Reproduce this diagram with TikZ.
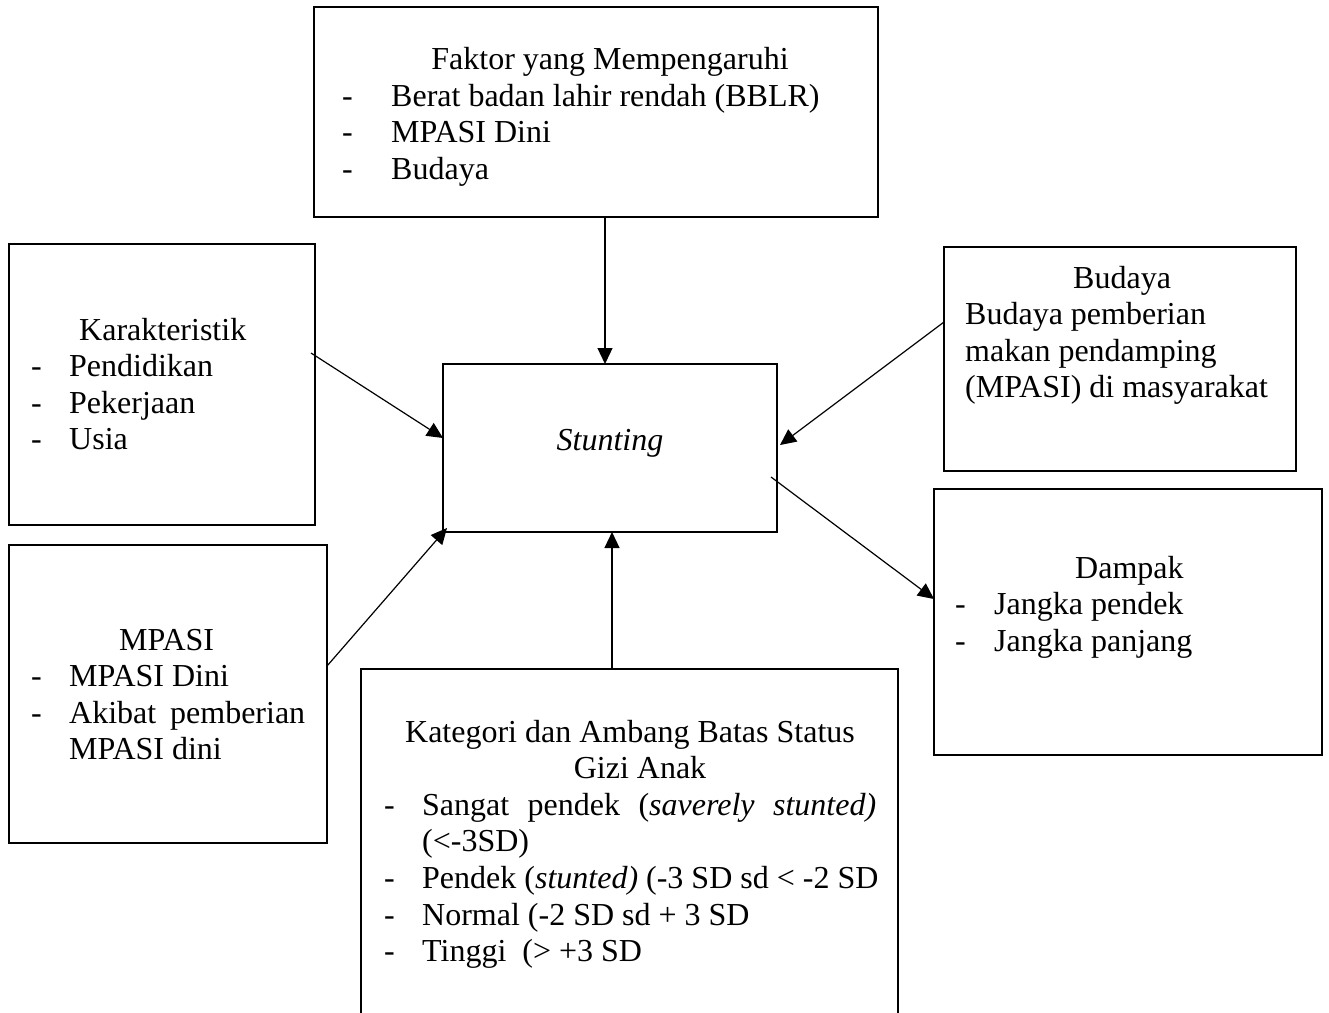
\documentclass[tikz,border=0pt]{standalone}
\usepackage{fontspec}
\setmainfont{Liberation Serif}
\usetikzlibrary{arrows.meta,calc}
\begin{document}
\begin{tikzpicture}[x=1pt,y=-1pt,
  box/.style={draw, line width=2.6pt, inner sep=0pt, outer sep=0pt},
  txt/.style={inner sep=0pt, anchor=base west, font=\fontsize{32}{36.6}\selectfont},
  ctxt/.style={txt, anchor=base},
  arr/.style={line width=1.2pt, -{Triangle[length=16pt,width=15pt]}}]
\useasboundingbox (0,0) rectangle (1329,1012);
\clip (0,0) rectangle (1329,1012);
\fill[white] (0,0) rectangle (1329,1012);

% boxes
\node[box, minimum width=564pt, minimum height=210pt] (faktor) at (596,112) {};
\node[box, minimum width=306pt, minimum height=281pt] (kar) at (162,384.5) {};
\node[box, minimum width=334pt, minimum height=168pt] (stunt) at (610,448) {};
\node[box, minimum width=352pt, minimum height=224pt] (bud) at (1120,359) {};
\node[box, minimum width=388pt, minimum height=266pt] (damp) at (1128,622) {};
\node[box, minimum width=318pt, minimum height=298pt] (mpasi) at (168,694) {};
\node[box, minimum width=537pt, minimum height=380pt] (kat) at (629.5,859) {};

% Faktor
\node[ctxt] (f0) at (610,69) {Faktor yang Mempengaruhi};
\node[txt] (f1d) at (342,106) {-};
\node[txt] (f1) at (391,106) {Berat badan lahir rendah (BBLR)};
\node[txt] (f2d) at (342,142.6) {-};
\node[txt] (f2) at (391,142.6) {MPASI Dini};
\node[txt] (f3d) at (342,179.2) {-};
\node[txt] (f3) at (391,179.2) {Budaya};

% Karakteristik
\node[txt] (k0) at (79,340) {Karakteristik};
\node[txt] (k1d) at (31,376.6) {-};
\node[txt] (k1) at (69,376.6) {Pendidikan};
\node[txt] (k2d) at (31,413.2) {-};
\node[txt] (k2) at (69,413.2) {Pekerjaan};
\node[txt] (k3d) at (31,449.8) {-};
\node[txt] (k3) at (69,449.8) {Usia};

% Stunting
\node[ctxt] (s0) at (610,450) {\itshape Stunting};

% Budaya
\node[txt] (b0) at (1073,288) {Budaya};
\node[txt] (b1) at (965,324.6) {Budaya pemberian};
\node[txt] (b2) at (965,361.2) {makan pendamping};
\node[txt] (b3) at (965,397.8) {(MPASI) di masyarakat};

% Dampak
\node[txt] (d0) at (1075,578) {Dampak};
\node[txt] (d1d) at (955,614.6) {-};
\node[txt] (d1) at (994,614.6) {Jangka pendek};
\node[txt] (d2d) at (955,651.2) {-};
\node[txt] (d2) at (994,651.2) {Jangka panjang};

% MPASI
\node[txt] (m0) at (119,650) {MPASI};
\node[txt] (m1d) at (31,686.6) {-};
\node[txt] (m1) at (69,686.6) {MPASI Dini};
\node[txt] (m2d) at (31,723.2) {-};
\node[txt] (m2) at (69,723.2) {\makebox[236pt][s]{Akibat pemberian}};
\node[txt] (m3) at (69,759.8) {MPASI dini};

% Kategori
\node[ctxt] (t0) at (630,742) {Kategori dan Ambang Batas Status};
\node[ctxt] (t0b) at (640,778.6) {Gizi Anak};
\node[txt] (t1d) at (384,815.2) {-};
\node[txt] (t1) at (422,815.2) {\makebox[454pt][s]{Sangat pendek (\textit{saverely stunted)}}};
\node[txt] (t1b) at (422,851.8) {(<-3SD)};
\node[txt] (t2d) at (384,888.4) {-};
\node[txt] (t2) at (422,888.4) {Pendek (\textit{stunted)} (-3 SD sd < -2 SD};
\node[txt] (t3d) at (384,925) {-};
\node[txt] (t3) at (422,925) {Normal (-2 SD sd + 3 SD};
\node[txt] (t4d) at (384,961.6) {-};
\node[txt] (t4) at (422,961.6) {Tinggi\ \ (> +3 SD};

% connectors
\draw[arr] (faktor.south -| 605,0) -- (stunt.north -| 605,0);
\draw[arr] ($(kar.east |- 0,353)+(-4,0)$) -- (stunt.west |- 0,438);
\draw[arr] (bud.west |- 0,322) -- ($(stunt.east |- 0,445)+(3,0)$);
\draw[arr] ($(stunt.east |- 0,477)+(-6,0)$) -- (damp.west |- 0,599);
\draw[arr] (mpasi.east |- 0,666) -- ($(stunt.south west)+(4,-4)$);
\draw[arr] (kat.north -| 612,0) -- (stunt.south -| 612,0);
\end{tikzpicture}
\end{document}
